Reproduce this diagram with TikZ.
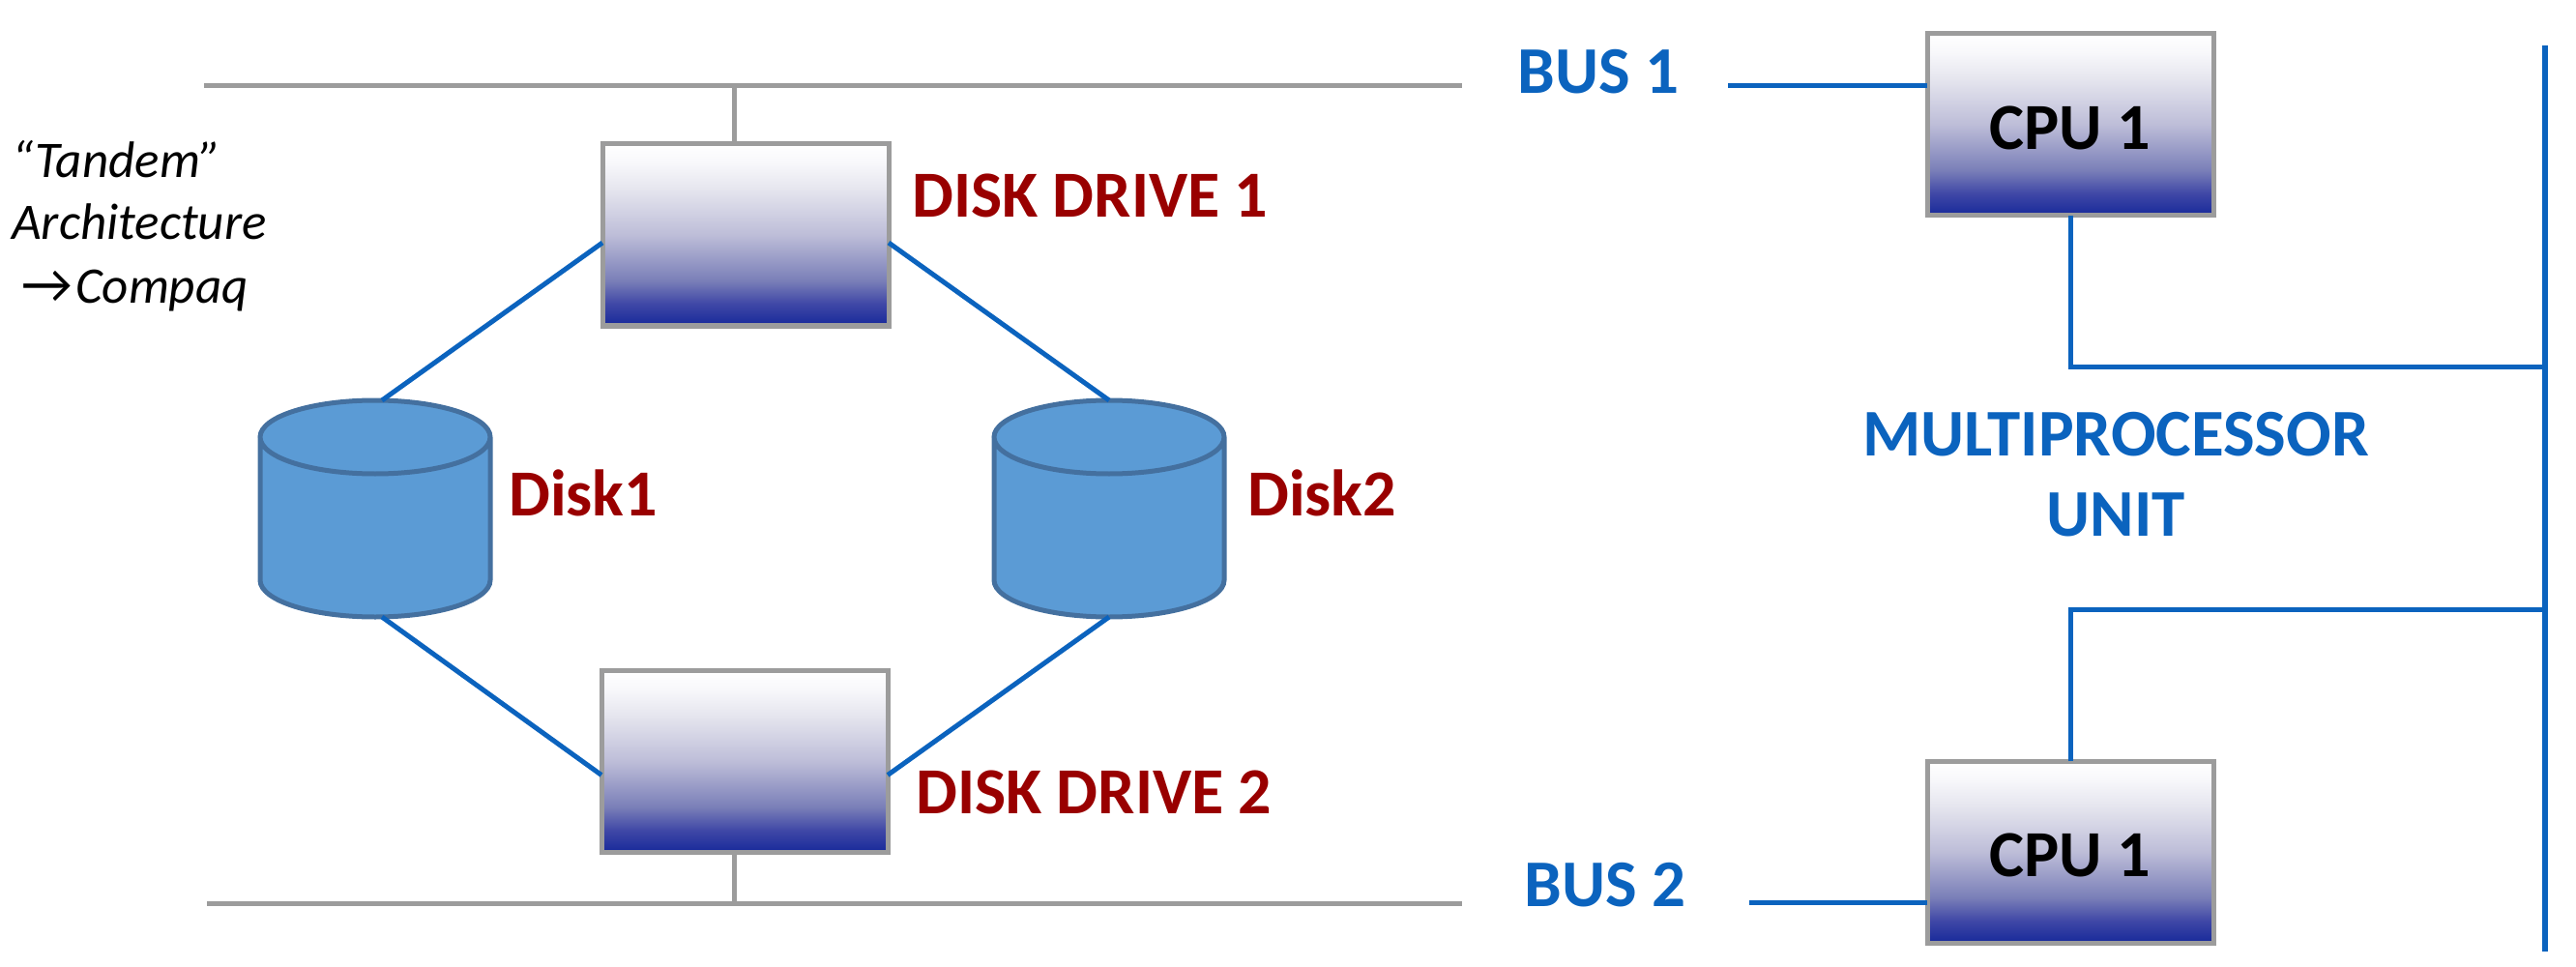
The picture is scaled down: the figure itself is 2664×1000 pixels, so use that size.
\documentclass[tikz,border=0pt]{standalone}
\usepackage{fontspec}
\setmainfont{Carlito}
\usetikzlibrary{calc}
\definecolor{gline}{HTML}{9C9C9C}
\definecolor{bline}{HTML}{0B63BE}
\definecolor{dred}{HTML}{990000}
\definecolor{navy}{HTML}{17299A}
\definecolor{diskfill}{HTML}{5B9BD5}
\definecolor{diskedge}{HTML}{44709F}
\definecolor{gA}{HTML}{3F47A6}
\definecolor{gB}{HTML}{7A7FB8}
\definecolor{gC}{HTML}{BDBDD8}
\definecolor{gD}{HTML}{E5E5EE}
\definecolor{gE}{HTML}{F8F8FB}
\pgfdeclareverticalshading{unitshade}{100bp}{color(0bp)=(navy); color(25bp)=(navy); color(31bp)=(gA); color(37.5bp)=(gB); color(50bp)=(gC); color(62.5bp)=(gD); color(70bp)=(gE); color(75bp)=(white); color(100bp)=(white)}
\tikzset{
  x=1pt,y=-1pt,
  unitbox/.style={draw=gline,line width=5pt,rectangle,inner sep=0,outer sep=0,shading=unitshade,minimum width=296pt,minimum height=188pt,font=\fontsize{68}{68}\selectfont\bfseries,text=black},
  diskarea/.style={rectangle,inner sep=0,outer sep=0,minimum width=238pt,minimum height=224pt},
  diskbody/.style={draw=diskedge,line width=5pt,fill=diskfill},
  rlabel/.style={anchor=base west,inner sep=0,text=dred,font=\fontsize{68}{68}\selectfont\bfseries},
  blabel/.style={anchor=base,inner sep=0,text=bline,font=\fontsize{69}{69}\selectfont\bfseries},
  note/.style={anchor=base west,inner sep=0,text=black,font=\fontsize{53}{53}\selectfont\itshape},
  busline/.style={draw=gline,line width=5pt},
  stubline/.style={draw=gline,line width=5pt},
  wire/.style={draw=bline,line width=5pt},
  trunk/.style={draw=bline,line width=6pt},
}
\newcommand{\drawdisk}[1]{%
  \draw[diskbody] ([yshift=-38pt]#1.north west)
    -- ([yshift=38pt]#1.south west)
    arc[start angle=180,end angle=360,x radius=119pt,y radius=38pt]
    -- ([yshift=-38pt]#1.north east)
    arc[start angle=0,end angle=180,x radius=119pt,y radius=38pt]
    arc[start angle=180,end angle=360,x radius=119pt,y radius=38pt];
}
\begin{document}
\begin{tikzpicture}
\useasboundingbox (0,0) rectangle (2664,1000);
\coordinate (b1l) at (211,89);
\coordinate (b1r) at (1512,89);
\coordinate (b2l) at (214,934);
\coordinate (b2r) at (1512,934);
\coordinate (b1e) at (1787,89);
\coordinate (b2e) at (1809,933);
\coordinate (tt) at (2632,47);
\coordinate (tb) at (2632,984);
\coordinate (ta) at (2632,379);
\coordinate (tc) at (2632,630);

\node[unitbox] (dd1) at (771,243) {};
\node[unitbox] (dd2) at (770,787.5) {};
\node[diskarea] (d1) at (388,526) {};
\node[diskarea] (d2) at (1147,526) {};
\drawdisk{d1}
\drawdisk{d2}
\node[unitbox] (cpua) at (2141,129) {\raisebox{-3.5pt}[\height][\depth]{CPU 1}};
\node[unitbox] (cpub) at (2141,881) {\raisebox{-3.5pt}[\height][\depth]{CPU 1}};

\draw[busline] (b1l) -- (b1r);
\draw[busline] (b2l) -- (b2r);
\draw[stubline] ([xshift=-12pt]dd1.north) -- ([xshift=-12pt]dd1.north |- b1l);
\draw[stubline] ([xshift=-11pt]dd2.south) -- ([xshift=-11pt]dd2.south |- b2l);
\draw[wire] ([yshift=-8pt]dd1.west) -- ([xshift=7pt]d1.north);
\draw[wire] ([yshift=-8pt]dd1.east) -- (d2.north);
\draw[wire] ([yshift=-14pt]dd2.west) -- ([xshift=7pt]d1.south);
\draw[wire] ([yshift=-14pt]dd2.east) -- (d2.south);
\draw[wire] (b1e) -- (b1e -| cpua.west);
\draw[wire] (b2e) -- (b2e -| cpub.west);
\draw[trunk] (tt) -- (tb);
\draw[wire] (cpua.south) |- (ta);
\draw[wire] (cpub.north) |- (tc);

\node[rlabel] (l1) at (943,225) {DISK DRIVE 1};
\node[rlabel] (l2) at (947,841) {DISK DRIVE 2};
\node[rlabel] (l3) at (526,533) {Disk1};
\node[rlabel] (l4) at (1290,533) {Disk2};
\node[blabel] (l5) at (1653,97) {BUS 1};
\node[blabel] (l6) at (1660,937) {BUS 2};
\node[blabel] (l7) at (2188,471) {MULTIPROCESSOR};
\node[blabel] (l8) at (2188,554) {UNIT};
\node[note] (n1) at (12,184) {“Tandem”};
\node[note] (n2) at (12,248) {Architecture};
\node[note] (n3) at (78,314) {Compaq};
\node[anchor=base west,inner sep=0,font=\fontsize{58}{58}\selectfont] (n4) at (22,314) {→};
\end{tikzpicture}
\end{document}
